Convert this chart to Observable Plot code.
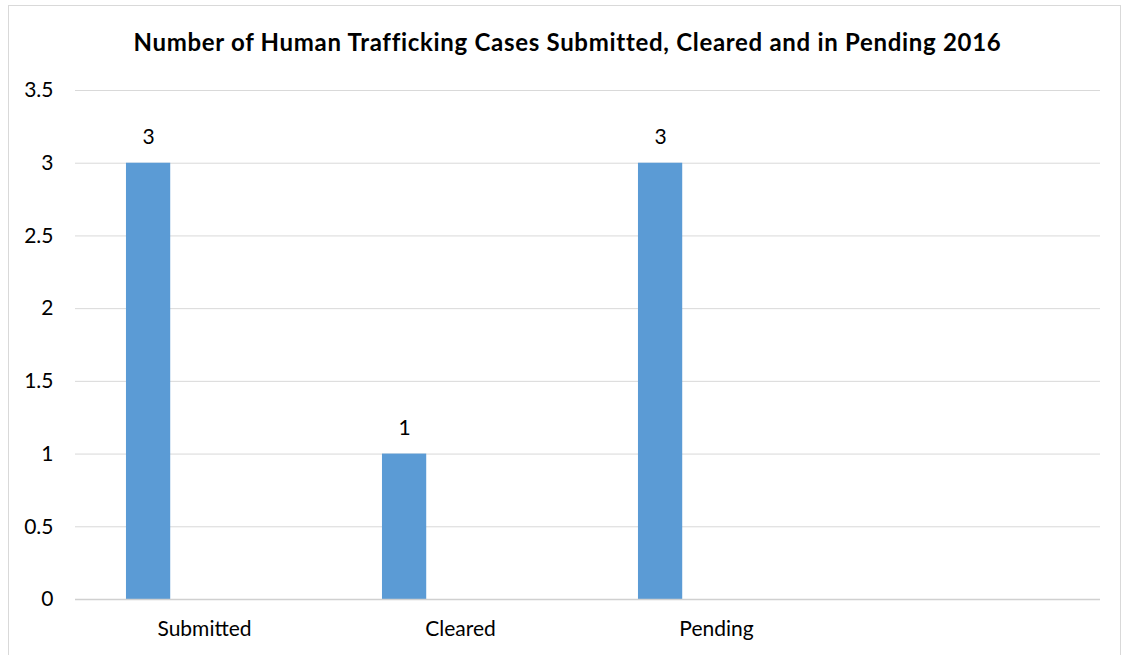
<!DOCTYPE html>
<html>
<head>
<meta charset="utf-8">
<script src="https://cdn.jsdelivr.net/npm/d3@7"></script>
<script src="https://cdn.jsdelivr.net/npm/@observablehq/plot@0.6"></script>
<style>
  html, body { margin: 0; padding: 0; background: #fff; }
  #wrap { position: relative; width: 1123px; height: 655px; overflow: hidden; font-family: Lato, "Open Sans", sans-serif; }
  #frame { position: absolute; left: 8px; top: 5px; width: 1113px; height: 700px; border: 1px solid #d9d9d9; box-sizing: border-box; }
  #title { position: absolute; left: 0; width: 1135px; top: 30px; line-height: 24px; text-align: center; font-weight: bold; font-size: 24px; letter-spacing: 0.7px; color: #000; white-space: nowrap; }
  #chart { position: absolute; left: 0; top: 0; }
</style>
</head>
<body>
<div id="wrap">
  <div id="frame"></div>
  <div id="title">Number of Human Trafficking Cases Submitted, Cleared and in Pending 2016</div>
  <div id="chart"></div>
</div>
<script>
const categories = ["Submitted", "Cleared", "Pending"];
const cases = [3, 1, 3];
const yTicks = [0, 0.5, 1, 1.5, 2, 2.5, 3, 3.5];

const data = categories.map((c, i) => ({category: c, value: cases[i]}));

const W = 1123, H = 655;
const mL = 75, mR = 23, mT = 90, mB = 56;
const band = (W - mL - mR) / 4;
const insetL = band * 0.195;
const barW = 44.5;
const insetR = band - insetL - barW;
const labelDx = insetL + barW / 2 - band / 2;

const plot = Plot.plot({
  width: W,
  height: H,
  marginLeft: mL,
  marginRight: mR,
  marginTop: mT,
  marginBottom: mB,
  style: { background: "transparent", fontFamily: "Lato, 'Open Sans', sans-serif", fontSize: "21px", color: "#000" },
  x: { domain: [...categories, " "], padding: 0, label: null, tickSize: 0, tickPadding: 22 },
  y: { domain: [0, 3.5], ticks: yTicks, label: null, tickSize: 0, tickPadding: 22, tickFormat: d => String(d) },
  marks: [
    Plot.gridY(yTicks, { stroke: "#d9d9d9", strokeOpacity: 1, strokeWidth: 1 }),
    Plot.barY(data, { x: "category", y: "value", fill: "#5b9bd5", insetLeft: insetL, insetRight: insetR }),
    Plot.ruleY([0], { stroke: "#d0d0d0", strokeWidth: 1.5 }),
    Plot.text(data, { x: "category", y: "value", text: d => String(d.value), dx: labelDx, dy: -26, fontSize: 21, fill: "#000" })
  ]
});
document.getElementById("chart").appendChild(plot);
</script>
</body>
</html>
